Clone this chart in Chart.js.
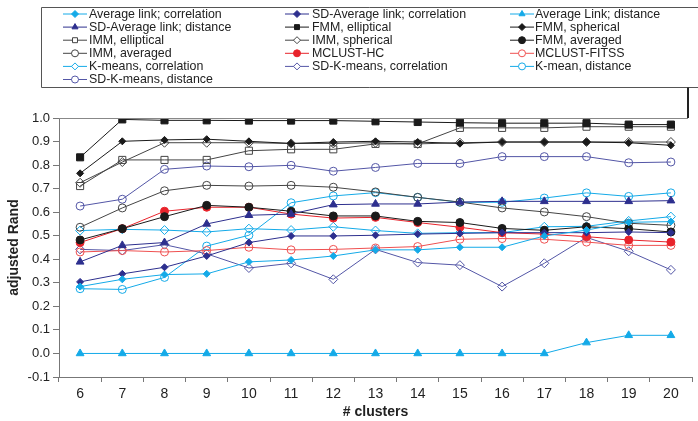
<!DOCTYPE html>
<html>
<head>
<meta charset="utf-8">
<script src="https://cdn.jsdelivr.net/npm/chart.js@4/dist/chart.umd.min.js"></script>
<style>
html,body{margin:0;padding:0;background:#fff;}
#wrap{width:698px;height:421px;position:relative;}
</style>
</head>
<body>
<div id="wrap"><canvas id="c" width="698" height="421"></canvas></div>
<script>
const categories = ['6','7','8','9','10','11','12','13','14','15','16','17','18','19','20'];
const yTicks = [-0.1,0,0.1,0.2,0.3,0.4,0.5,0.6,0.7,0.8,0.9,1.0];

const avgLinkCorr   = [0.284,0.315,0.335,0.338,0.389,0.397,0.414,0.440,0.440,0.451,0.451,0.499,0.524,0.557,0.560];
const sdAvgLinkCorr = [0.304,0.338,0.366,0.414,0.471,0.499,0.499,0.502,0.507,0.510,0.513,0.513,0.513,0.516,0.513];
const avgLinkDist   = [0,0,0,0,0,0,0,0,0,0,0,0,0.046,0.077,0.077];
const sdAvgLinkDist = [0.389,0.459,0.471,0.550,0.587,0.592,0.632,0.635,0.635,0.643,0.646,0.646,0.646,0.646,0.649];
const fmmEll        = [0.833,0.994,0.990,0.990,0.989,0.989,0.989,0.986,0.983,0.980,0.978,0.978,0.978,0.972,0.972];
const fmmSph        = [0.765,0.901,0.907,0.910,0.901,0.892,0.898,0.901,0.898,0.892,0.898,0.898,0.898,0.895,0.884];
const immEll        = [0.711,0.822,0.822,0.822,0.861,0.867,0.867,0.890,0.890,0.958,0.958,0.958,0.963,0.963,0.963];
const immSph        = [0.725,0.813,0.895,0.895,0.895,0.892,0.892,0.895,0.890,0.895,0.898,0.898,0.898,0.898,0.898];
const fmmAvg        = [0.482,0.530,0.581,0.629,0.621,0.604,0.584,0.584,0.561,0.556,0.531,0.523,0.538,0.530,0.516];
const immAvg        = [0.536,0.618,0.691,0.714,0.711,0.714,0.706,0.686,0.663,0.643,0.618,0.601,0.581,0.553,0.544];
const mclustHC      = [0.471,0.530,0.604,0.621,0.621,0.592,0.575,0.578,0.556,0.536,0.513,0.507,0.496,0.482,0.473];
const mclustFITSS   = [0.431,0.437,0.431,0.437,0.451,0.440,0.442,0.448,0.454,0.485,0.488,0.485,0.473,0.459,0.459];
const kmCorr        = [0.522,0.527,0.524,0.516,0.530,0.524,0.538,0.522,0.510,0.513,0.513,0.538,0.540,0.563,0.581];
const sdKmCorr      = [0.442,0.437,0.462,0.423,0.363,0.383,0.315,0.442,0.386,0.375,0.284,0.383,0.493,0.434,0.355];
const kmDist        = [0.275,0.272,0.323,0.456,0.502,0.640,0.669,0.683,0.663,0.642,0.642,0.660,0.682,0.667,0.682];
const sdKmDist      = [0.626,0.655,0.782,0.796,0.793,0.799,0.774,0.790,0.807,0.807,0.836,0.836,0.836,0.810,0.813];

const LB = '#14aae8', DB = '#2d2f8e', MB = '#5356a6', BK = '#1a1a1a', GR = '#444444', RD = '#e8232b', LR = '#ef5050';
const NONE = 'rgba(255,255,255,0)';

function ds(label, data, color, style, filled, radius) {
  return {
    label, data,
    borderColor: color, backgroundColor: filled ? color : NONE,
    borderWidth: 1,
    pointStyle: style, pointRadius: radius, pointHoverRadius: radius,
    pointBorderColor: color, pointBackgroundColor: filled ? color : NONE,
    pointBorderWidth: 1, tension: 0, fill: false
  };
}

const datasets = [
  ds('Average link; correlation', avgLinkCorr, LB, 'rectRot', true, 3.5),
  ds('SD-Average link; correlation', sdAvgLinkCorr, DB, 'rectRot', true, 3.5),
  ds('Average Link; distance', avgLinkDist, LB, 'triangle', true, 4.5),
  ds('SD-Average link; distance', sdAvgLinkDist, DB, 'triangle', true, 4.5),
  ds('FMM, elliptical', fmmEll, BK, 'rect', true, 5),
  ds('FMM, spherical', fmmSph, BK, 'rectRot', true, 3.5),
  ds('IMM, elliptical', immEll, GR, 'rect', false, 5),
  ds('IMM, spherical', immSph, GR, 'rectRot', false, 4.5),
  ds('FMM, averaged', fmmAvg, BK, 'circle', true, 4),
  ds('IMM, averaged', immAvg, GR, 'circle', false, 4),
  ds('MCLUST-HC', mclustHC, RD, 'circle', true, 4),
  ds('MCLUST-FITSS', mclustFITSS, LR, 'circle', false, 4),
  ds('K-means, correlation', kmCorr, LB, 'rectRot', false, 4.5),
  ds('SD-K-means, correlation', sdKmCorr, MB, 'rectRot', false, 4.5),
  ds('K-mean, distance', kmDist, LB, 'circle', false, 4),
  ds('SD-K-means, distance', sdKmDist, MB, 'circle', false, 4)
];

const legendPlugin = {
  id: 'customLegend',
  afterDraw(chart) {
    const ctx = chart.ctx;
    ctx.save();
    // legend frame
    ctx.strokeStyle = '#555';
    ctx.lineWidth = 1;
    ctx.beginPath();
    ctx.moveTo(698, 7.5); ctx.lineTo(41.5, 7.5); ctx.lineTo(41.5, 87.5); ctx.lineTo(698, 87.5);
    ctx.stroke();
    // top border of plot and connector
    const ca = chart.chartArea;
    ctx.strokeStyle = '#888';
    ctx.beginPath();
    ctx.moveTo(ca.left, ca.top + 0.5); ctx.lineTo(688, ca.top + 0.5);
    ctx.stroke();
    ctx.strokeStyle = '#222';
    ctx.lineWidth = 2;
    ctx.beginPath();
    ctx.moveTo(688, 87.5); ctx.lineTo(688, ca.top);
    ctx.stroke();

    const symX = [63, 285, 510];
    const txtX = [89, 312, 535];
    ctx.font = '12.4px "Liberation Sans", Arial, sans-serif';
    ctx.textBaseline = 'middle';
    ctx.textAlign = 'left';
    chart.data.datasets.forEach((d, i) => {
      const col = i % 3, row = Math.floor(i / 3);
      const y = 14 + row * 13.1;
      const x0 = symX[col], x1 = x0 + 24;
      ctx.lineWidth = 1;
      ctx.strokeStyle = d.borderColor;
      ctx.beginPath(); ctx.moveTo(x0, y); ctx.lineTo(x1, y); ctx.stroke();
      ctx.fillStyle = d.pointBackgroundColor === NONE ? '#ffffff' : d.pointBackgroundColor;
      ctx.strokeStyle = d.pointBorderColor;
      Chart.helpers.drawPoint(ctx, {pointStyle: d.pointStyle, radius: Math.min(d.pointRadius, 3.5), rotation: 0, borderWidth: 1}, (x0 + x1) / 2, y);
      ctx.fillStyle = '#222';
      ctx.fillText(d.label, txtX[col], y + 0.5);
    });
    ctx.restore();
  }
};

new Chart(document.getElementById('c'), {
  type: 'line',
  data: { labels: categories, datasets },
  options: {
    responsive: false,
    animation: false,
    events: [],
    layout: { padding: { top: 118, left: 0, right: 0, bottom: 0 } },
    plugins: { legend: { display: false }, tooltip: { enabled: false } },
    scales: {
      x: {
        type: 'category',
        offset: true,
        grid: { offset: true, drawOnChartArea: false, drawTicks: true, tickLength: 5, color: '#777' },
        border: { display: true, color: '#777', width: 1 },
        ticks: { color: '#222', font: { family: '"Liberation Sans", Arial, sans-serif', size: 14 }, padding: 4, maxRotation: 0, autoSkip: false },
        title: { display: true, text: '# clusters', color: '#222', font: { family: '"Liberation Sans", Arial, sans-serif', size: 14, weight: 'bold' }, padding: { top: 0, bottom: 0 } },
        afterFit: s => { s.height = 44; }
      },
      y: {
        type: 'linear',
        min: -0.1, max: 1.0,
        afterBuildTicks: s => { s.ticks = yTicks.map(v => ({ value: v })); },
        grid: { drawOnChartArea: false, drawTicks: true, tickLength: 6, color: '#777' },
        border: { display: true, color: '#777', width: 1 },
        ticks: { color: '#222', font: { family: '"Liberation Sans", Arial, sans-serif', size: 13 }, padding: 3, callback: v => Number(v).toFixed(1) },
        title: { display: true, text: 'adjusted Rand', color: '#222', font: { family: '"Liberation Sans", Arial, sans-serif', size: 14, weight: 'bold' }, padding: { top: 6, bottom: 0 } },
        afterFit: s => { s.width = 59; }
      }
    }
  },
  plugins: [legendPlugin]
});
</script>
</body>
</html>
